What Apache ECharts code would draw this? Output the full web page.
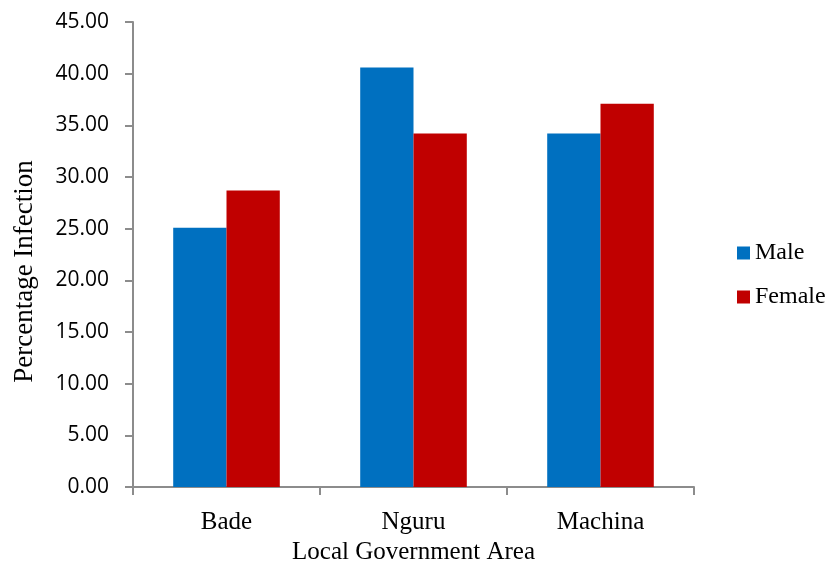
<!DOCTYPE html>
<html><head><meta charset="utf-8">
<script src="https://cdn.jsdelivr.net/npm/echarts@6/dist/echarts.min.js"></script>
<style>html,body{margin:0;padding:0;background:#fff}#c{width:825px;height:562px}</style>
</head><body><div id="c"></div>
<script>
const categories = ['Bade', 'Nguru', 'Machina'];
const maleValues = [25.1, 40.6, 34.2];
const femaleValues = [28.7, 34.2, 37.1];
const seriesNames = ['Male', 'Female'];
const yTicks = { min: 0, max: 45, step: 5 };

const chart = echarts.init(document.getElementById('c'));
chart.setOption({
  animation: false,
  backgroundColor: '#fff',
  grid: { left: 133, right: 131, top: 22, bottom: 75, containLabel: false, outerBoundsMode: 'none' },
  legend: {
    orient: 'vertical', left: 732, top: 236,
    itemWidth: 13, itemHeight: 13, icon: 'rect', itemGap: 20,
    textStyle: { fontFamily: 'Liberation Serif', fontSize: 24, color: '#000' },
    data: seriesNames
  },
  xAxis: {
    type: 'category', data: categories,
    name: 'Local Government Area', nameLocation: 'middle', nameGap: 53,
    nameTextStyle: { fontFamily: 'Liberation Serif', fontSize: 25, color: '#000' },
    axisLine: { lineStyle: { color: '#8c8c8c', width: 2 } },
    axisTick: { show: true, length: 8, lineStyle: { color: '#8c8c8c', width: 2 } },
    axisLabel: { fontFamily: 'Liberation Serif', fontSize: 25, color: '#000', margin: 23 }
  },
  yAxis: {
    type: 'value', min: yTicks.min, max: yTicks.max, interval: yTicks.step,
    name: 'Percentage Infection', nameLocation: 'middle', nameGap: 95,
    nameTextStyle: { fontFamily: 'Liberation Serif', fontSize: 27, color: '#000', padding: [0, 34, 0, 0] },
    axisLine: { show: true, lineStyle: { color: '#8c8c8c', width: 2 } },
    axisTick: { show: true, length: 8, lineStyle: { color: '#8c8c8c', width: 2 } },
    splitLine: { show: false },
    axisLabel: { fontFamily: 'Open Sans', fontSize: 21, color: '#000', margin: 24,
      formatter: v => v.toFixed(2) }
  },
  series: [
    { name: seriesNames[0], type: 'bar', data: maleValues, barGap: '0%', barCategoryGap: '43%',
      itemStyle: { color: '#0070C0' } },
    { name: seriesNames[1], type: 'bar', data: femaleValues, barGap: '0%', barCategoryGap: '43%',
      itemStyle: { color: '#C00000' } }
  ]
});
</script></body></html>
